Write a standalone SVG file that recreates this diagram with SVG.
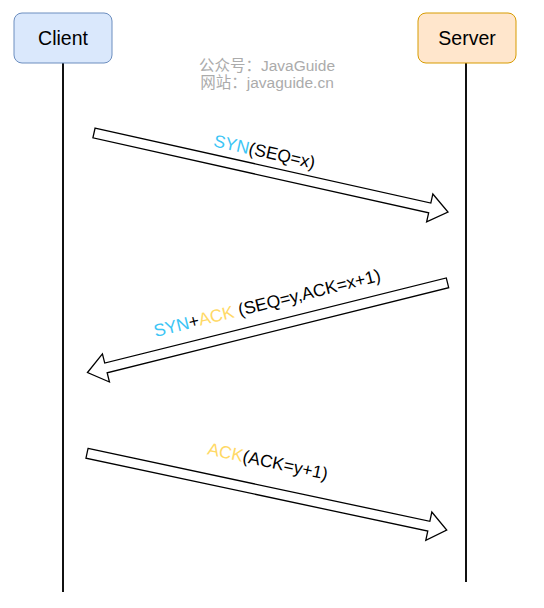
<svg xmlns="http://www.w3.org/2000/svg" width="544" height="608" viewBox="0 0 544 608">
  <style>
    .box-text { font-family: "Liberation Sans", Arial, sans-serif; font-size: 19.5px; fill: #000; text-anchor: middle; }
    .wm { font-family: "Liberation Sans", "Noto Sans CJK SC", sans-serif; font-size: 15.5px; fill: #ababab; text-anchor: middle; }
    .lifeline { stroke: #111; stroke-width: 2; fill: none; }
    .flat-arrow { fill: #fff; stroke: #000; stroke-width: 1.3; stroke-linejoin: miter; }
    .label { font-family: "Liberation Sans", Arial, sans-serif; font-size: 17.5px; fill: #000; text-anchor: middle; }
    .syn { fill: #3CC5F5; }
    .ack { fill: #FFD966; }
  </style>
  <rect width="544" height="608" fill="#fff"/>

  <g id="connectors">
    <line class="lifeline" x1="63" y1="63" x2="63" y2="592"/>
    <line class="lifeline" x1="466" y1="63" x2="466" y2="582"/>

    <g id="arrow-syn" transform="translate(94,133) rotate(12.58)">
      <path class="flat-arrow" d="M0,-5 H344 V-14.3 L362.7,0 L344,14.3 V5 H0 Z"/>
      <text class="label" x="170.5" y="-13"><tspan class="syn">SYN</tspan>(SEQ=x)</text>
    </g>

    <g id="arrow-synack" transform="translate(87.5,372.5) rotate(-13.99)">
      <path class="flat-arrow" d="M0,0 L19,-14.5 V-5 H371 V5 H19 V14.5 Z"/>
      <text class="label" x="191" y="-18"><tspan class="syn">SYN</tspan>+<tspan class="ack">ACK</tspan> (SEQ=y,ACK=x+1)</text>
    </g>

    <g id="arrow-ack" transform="translate(87,453.3) rotate(12.04)">
      <path class="flat-arrow" d="M0,-5 H349.5 V-14.5 L367.8,0 L349.5,14.5 V5 H0 Z"/>
      <text class="label" x="178.5" y="-24"><tspan class="ack">ACK</tspan>(ACK=y+1)</text>
    </g>
  </g>

  <g id="client">
    <rect x="14" y="13" width="98" height="50" rx="8" ry="8" fill="#dae8fc" stroke="#6c8ebf" stroke-width="1"/>
    <text class="box-text" x="63" y="45">Client</text>
  </g>

  <g id="server">
    <rect x="418" y="13" width="98" height="50" rx="8" ry="8" fill="#ffe6cc" stroke="#d79b00" stroke-width="1"/>
    <text class="box-text" x="467" y="45">Server</text>
  </g>

  <g id="watermark">
    <text class="wm" x="267" y="70.5">公众号：JavaGuide</text>
    <text class="wm" x="267" y="88">网站：javaguide.cn</text>
  </g>
</svg>
